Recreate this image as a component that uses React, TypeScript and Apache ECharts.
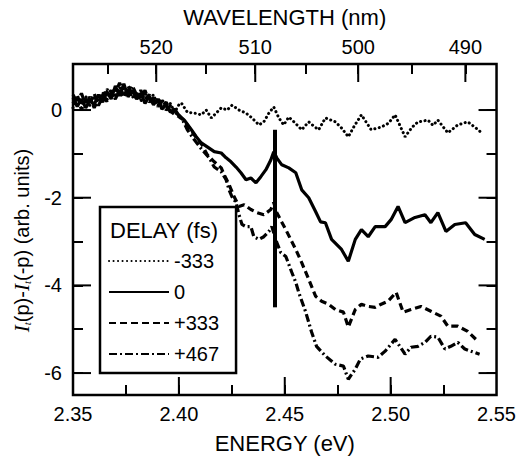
import React, { useEffect, useRef } from "react";
import * as echarts from "echarts";

// Energy axis (eV) and signal axis limits
const E_MIN = 2.35;
const E_MAX = 2.55;
const E_STEP = 0.05;
const Y_MIN = -6.5;
const Y_MAX = 1.05;
const Y_MAJOR = [-6, -4, -2, 0];
const Y_MINOR = [-5, -3, -1];

// Wavelength scale on the top axis (nm), with the spectrometer calibration offset (eV)
const WAVE_MAJOR = [520, 510, 500, 490];
const WAVE_MINOR = [525, 515, 505, 495];
const HC = 1239.84;
const CAL_OFFSET = 0.005;
const nmToEv = (nm: number) => HC / nm + CAL_OFFSET;
const evToNm = (ev: number) => HC / (ev - CAL_OFFSET);

const DELAYS = ["-333", "0", "+333", "+467"];

// Differential signal I_t(p) - I_t(-p) vs photon energy, one trace per pump delay
const TRACE_M333: [number, number][] = [
  [2.35, 0.05], [2.352, 0.3], [2.354, 0.12], [2.356, 0.32], [2.358, 0.1], [2.36, 0.28],
  [2.362, 0.18], [2.364, 0.4], [2.366, 0.22], [2.368, 0.48], [2.37, 0.3], [2.372, 0.52],
  [2.374, 0.35], [2.376, 0.5], [2.378, 0.28], [2.38, 0.42], [2.382, 0.2], [2.384, 0.38],
  [2.386, 0.22], [2.388, 0.35], [2.39, 0.1], [2.392, 0.25], [2.394, 0.05], [2.396, 0.15],
  [2.398, -0.05], [2.4, 0.12], [2.4012, 0.16], [2.404, -0.05], [2.4073, -0.07], [2.4106, -0.11],
  [2.4129, 0.0], [2.4153, -0.18], [2.4176, -0.07], [2.42, 0.05], [2.4228, 0.0],
  [2.4251, 0.11], [2.4284, 0.0], [2.4317, -0.07], [2.4345, -0.18], [2.4378, -0.34],
  [2.4401, -0.27], [2.4425, -0.07], [2.4448, 0.07], [2.4472, -0.18], [2.4495, -0.34],
  [2.4519, -0.16], [2.455, -0.3], [2.458, -0.45], [2.4613, -0.27], [2.464, -0.38],
  [2.466, -0.45], [2.4692, -0.18], [2.4739, -0.27], [2.4768, -0.41], [2.48, -0.61],
  [2.483, -0.35], [2.4862, -0.11], [2.4908, -0.45], [2.4955, -0.39], [2.499, -0.3],
  [2.5021, -0.11], [2.5068, -0.61], [2.51, -0.4], [2.5129, -0.27], [2.5176, -0.23],
  [2.52, -0.35], [2.5223, -0.23], [2.527, -0.52], [2.5317, -0.34], [2.5364, -0.27],
  [2.54, -0.4], [2.5425, -0.5],
];

const TRACE_0: [number, number][] = [
  [2.35, 0.28], [2.352, 0.08], [2.354, 0.25], [2.356, 0.05], [2.358, 0.22], [2.36, 0.12],
  [2.362, 0.35], [2.364, 0.18], [2.366, 0.42], [2.368, 0.25], [2.37, 0.55], [2.372, 0.32],
  [2.374, 0.6], [2.376, 0.3], [2.378, 0.45], [2.38, 0.25], [2.382, 0.38], [2.384, 0.15],
  [2.386, 0.32], [2.388, 0.12], [2.39, 0.25], [2.392, 0.02], [2.394, 0.12], [2.396, -0.05],
  [2.398, 0.02], [2.4, -0.12], [2.4026, -0.23], [2.4059, -0.45], [2.4082, -0.61], [2.4106, -0.75],
  [2.4134, -0.84], [2.4167, -0.95], [2.42, -0.98], [2.4223, -1.09], [2.4246, -1.18],
  [2.427, -1.3], [2.4293, -1.43], [2.4317, -1.59], [2.434, -1.55], [2.4364, -1.66],
  [2.4387, -1.52], [2.4411, -1.36], [2.4434, -1.14], [2.4448, -0.95], [2.4462, -1.09],
  [2.4486, -1.25], [2.4519, -1.32], [2.4552, -1.43], [2.458, -1.82], [2.4613, -2.0],
  [2.4646, -2.32], [2.4669, -2.55], [2.4692, -2.57], [2.4721, -2.95], [2.4768, -3.18],
  [2.48, -3.45], [2.4833, -2.95], [2.4862, -2.73], [2.4894, -2.89], [2.4927, -2.66],
  [2.4974, -2.66], [2.5002, -2.5], [2.5035, -2.2], [2.5068, -2.57], [2.5115, -2.45],
  [2.5162, -2.39], [2.519, -2.57], [2.5223, -2.34], [2.5261, -2.77], [2.5303, -2.61],
  [2.5354, -2.57], [2.5397, -2.84], [2.5444, -2.95],
];

const TRACE_P333: [number, number][] = [
  [2.35, 0.15], [2.352, 0.35], [2.354, 0.0], [2.356, 0.25], [2.358, 0.15], [2.36, 0.38],
  [2.362, 0.1], [2.364, 0.3], [2.366, 0.2], [2.368, 0.4], [2.37, 0.25], [2.372, 0.45],
  [2.374, 0.28], [2.376, 0.55], [2.378, 0.35], [2.38, 0.28], [2.382, 0.45], [2.384, 0.25],
  [2.386, 0.35], [2.388, 0.18], [2.39, 0.28], [2.392, 0.08], [2.394, 0.18], [2.396, -0.02],
  [2.398, -0.1], [2.4, -0.15], [2.402, -0.22], [2.404, -0.34], [2.4073, -0.57], [2.411, -0.8],
  [2.4134, -1.02], [2.4167, -1.18], [2.42, -1.32], [2.4214, -1.48], [2.4237, -1.7],
  [2.4261, -1.98], [2.4284, -2.2], [2.4308, -2.16], [2.434, -2.27], [2.4369, -2.34],
  [2.4401, -2.39], [2.4434, -2.27], [2.4448, -2.11], [2.4462, -2.34], [2.4505, -2.73],
  [2.4552, -3.18], [2.458, -3.48], [2.4613, -3.86], [2.4646, -4.25], [2.4674, -4.36],
  [2.4707, -4.43], [2.4739, -4.55], [2.4777, -4.61], [2.48, -4.95], [2.4833, -4.55],
  [2.4862, -4.43], [2.4894, -4.48], [2.4927, -4.5], [2.4955, -4.43], [2.4988, -4.36],
  [2.5026, -4.16], [2.5059, -4.61], [2.5096, -4.55], [2.5143, -4.48], [2.519, -4.59],
  [2.5237, -4.7], [2.527, -4.93], [2.5317, -4.93], [2.5364, -5.05], [2.5411, -5.27],
];

const TRACE_P467: [number, number][] = [
  [2.35, 0.35], [2.352, 0.18], [2.354, 0.38], [2.356, 0.12], [2.358, 0.3], [2.36, 0.05],
  [2.362, 0.25], [2.364, 0.28], [2.366, 0.48], [2.368, 0.3], [2.37, 0.38], [2.372, 0.62],
  [2.374, 0.4], [2.376, 0.35], [2.378, 0.55], [2.38, 0.35], [2.382, 0.3], [2.384, 0.45],
  [2.386, 0.18], [2.388, 0.28], [2.39, 0.08], [2.392, 0.2], [2.394, 0.0], [2.396, 0.1],
  [2.398, -0.05], [2.4, -0.12], [2.402, -0.25], [2.404, -0.45], [2.4073, -0.68], [2.411, -0.91],
  [2.4143, -1.09], [2.4167, -1.3], [2.42, -1.41], [2.4223, -1.59], [2.4237, -1.82],
  [2.4251, -1.98], [2.427, -2.11], [2.4284, -2.39], [2.4298, -2.61], [2.4317, -2.66],
  [2.434, -2.66], [2.4354, -2.89], [2.4378, -2.95], [2.4401, -2.89], [2.4425, -2.77],
  [2.4439, -2.66], [2.4462, -3.02], [2.4481, -3.25], [2.4505, -3.34], [2.4533, -3.7],
  [2.4552, -3.93], [2.4566, -4.16], [2.4599, -4.61], [2.4627, -5.07], [2.465, -5.39],
  [2.4692, -5.61], [2.4739, -5.8], [2.4777, -5.84], [2.48, -6.14], [2.4833, -5.91],
  [2.4857, -5.68], [2.4894, -5.61], [2.4941, -5.64], [2.4974, -5.5], [2.5021, -5.23],
  [2.5068, -5.57], [2.5096, -5.41], [2.5129, -5.39], [2.5162, -5.3], [2.519, -5.16],
  [2.5223, -5.18], [2.5256, -5.45], [2.5284, -5.39], [2.5317, -5.3], [2.535, -5.45],
  [2.5378, -5.5], [2.542, -5.57],
];

// Vertical marker bar: energy and signal extent
const MARKER_E = 2.4455;
const MARKER_TOP = -0.45;
const MARKER_BOTTOM = -4.5;

const SANS = "Liberation Sans";
const BLACK = "#000";
const MAJOR_LEN = 18;
const MINOR_LEN = 10;

// Plot area
const GRID = { left: 73, right: 20, top: 64, bottom: 63 };
const WIDTH = 519;
const HEIGHT = 459;

export default function App() {
  const ref = useRef<HTMLDivElement>(null);

  useEffect(() => {
    if (!ref.current) return;
    const chart = echarts.init(ref.current, undefined, { renderer: "svg" });

    const label = { color: BLACK, fontSize: 20, fontFamily: SANS };
    const tickStyle = { color: BLACK, width: 2 };
    const hidden = { show: false, onZero: false };

    // Tick-only axis (the plot frame itself is the grid border)
    const xTicks = (position: string, values: number[], length: number) => ({
      type: "value",
      min: E_MIN,
      max: E_MAX,
      position,
      splitLine: { show: false },
      axisLine: hidden,
      axisLabel: { show: false },
      axisTick: { show: true, inside: true, length, customValues: values, lineStyle: tickStyle },
    });
    const yTicks = (position: string, values: number[], length: number) => ({
      type: "value",
      min: Y_MIN,
      max: Y_MAX,
      position,
      splitLine: { show: false },
      axisLine: hidden,
      axisLabel: { show: false },
      axisTick: { show: true, inside: true, length, customValues: values, lineStyle: tickStyle },
    });

    const eMajor: number[] = [];
    const eMinor: number[] = [];
    for (let k = 1; E_MIN + k * E_STEP < E_MAX - 1e-9; k++) {
      eMajor.push(+(E_MIN + k * E_STEP).toFixed(3));
    }
    for (let k = 0; E_MIN + (k + 0.5) * E_STEP < E_MAX; k++) {
      eMinor.push(+(E_MIN + (k + 0.5) * E_STEP).toFixed(4));
    }
    const waveMajorEv = WAVE_MAJOR.map(nmToEv);

    const lineSeries = (name: string, data: [number, number][], type: any, width: number, cap = "butt") => ({
      name,
      type: "line",
      data,
      symbol: "none",
      showSymbol: false,
      xAxisIndex: 0,
      yAxisIndex: 0,
      lineStyle: { color: BLACK, width, type, cap },
      itemStyle: { color: BLACK },
      z: 3,
    });

    const legendTitle = {
      type: "text",
      left: 110,
      top: 219,
      z: 10,
      style: { text: "DELAY (fs)", fill: BLACK, font: `22px ${SANS}` },
    };

    const option: any = {
      animation: false,
      textStyle: { fontFamily: SANS, color: BLACK },
      grid: {
        ...GRID,
        containLabel: false,
        show: true,
        borderColor: BLACK,
        borderWidth: 2.5,
        backgroundColor: "transparent",
      },
      xAxis: [
        // bottom: energy labels and title
        {
          type: "value",
          min: E_MIN,
          max: E_MAX,
          interval: E_STEP,
          position: "bottom",
          splitLine: { show: false },
          axisLine: hidden,
          axisTick: { show: false },
          axisLabel: { ...label, margin: 9, formatter: (v: number) => v.toFixed(2) },
          name: "ENERGY (eV)",
          nameLocation: "middle",
          nameGap: 37,
          nameTextStyle: { color: BLACK, fontSize: 22, fontFamily: SANS },
        },
        // top: wavelength labels and title
        {
          type: "value",
          min: E_MIN,
          max: E_MAX,
          position: "top",
          splitLine: { show: false },
          axisLine: hidden,
          axisTick: { show: false },
          axisLabel: {
            ...label,
            margin: 7,
            customValues: waveMajorEv,
            formatter: (v: number) => String(Math.round(evToNm(v))),
          },
          name: "WAVELENGTH (nm)",
          nameLocation: "middle",
          nameGap: 36,
          nameTextStyle: { color: BLACK, fontSize: 22, fontFamily: SANS },
        },
        xTicks("bottom", eMinor, MINOR_LEN),
        xTicks("top", WAVE_MINOR.map(nmToEv), MINOR_LEN),
        xTicks("bottom", eMajor, MINOR_LEN),
        xTicks("top", waveMajorEv, MINOR_LEN),
      ],
      yAxis: [
        {
          type: "value",
          min: Y_MIN,
          max: Y_MAX,
          position: "left",
          splitLine: { show: false },
          axisLine: hidden,
          axisTick: { show: false },
          axisLabel: { ...label, margin: 11, customValues: Y_MAJOR },
          name: "{i|I}{s|t}(p)-{i|I}{s|t}(-p) (arb. units)",
          nameLocation: "middle",
          nameGap: 41,
          nameTextStyle: {
            color: BLACK,
            fontSize: 20,
            fontFamily: SANS,
            padding: [0, 22, 0, 0],
            rich: {
              i: { fontFamily: "Liberation Serif", fontStyle: "italic", fontSize: 21, color: BLACK },
              s: { fontFamily: "Liberation Serif", fontStyle: "italic", fontSize: 11, verticalAlign: "bottom", color: BLACK },
            },
          },
        },
        yTicks("left", Y_MINOR, MINOR_LEN),
        yTicks("right", Y_MINOR, MINOR_LEN),
        yTicks("left", Y_MAJOR, MINOR_LEN),
        yTicks("right", Y_MAJOR, MINOR_LEN),
      ],
      legend: {
        data: DELAYS,
        orient: "vertical",
        left: 100,
        top: 207,
        itemWidth: 60,
        itemHeight: 20,
        itemGap: 11,
        padding: [44, 17, 9, 8],
        borderColor: BLACK,
        borderWidth: 2.5,
        backgroundColor: "#fff",
        selectedMode: false,
        itemStyle: { opacity: 0, color: "rgba(0,0,0,0)", borderWidth: 0 },
        textStyle: { color: BLACK, fontSize: 20, fontFamily: SANS },
      },
      graphic: [legendTitle],
      series: [
        lineSeries(DELAYS[0], TRACE_M333, [0.1, 4.4], 3, "round"),
        {
          ...lineSeries(DELAYS[1], TRACE_0, "solid", 3.2),
          markLine: {
            silent: true,
            symbol: ["none", "none"],
            label: { show: false },
            lineStyle: { color: BLACK, width: 4, type: "solid" },
            data: [[{ coord: [MARKER_E, MARKER_TOP] }, { coord: [MARKER_E, MARKER_BOTTOM] }]],
          },
        },
        lineSeries(DELAYS[2], TRACE_P333, [7, 4], 3.2),
        lineSeries(DELAYS[3], TRACE_P467, [8, 3, 2, 3], 3.2),
      ],
    };

    chart.setOption(option);

    // Full-length major ticks on all four sides, positioned through the axis scales
    const plotW = WIDTH - GRID.left - GRID.right;
    const plotH = HEIGHT - GRID.top - GRID.bottom;
    const xPx = (e: number) => {
      const r = chart.convertToPixel({ xAxisIndex: 0 }, e) as any;
      return Number.isFinite(r) ? r : GRID.left + ((e - E_MIN) / (E_MAX - E_MIN)) * plotW;
    };
    const yPx = (v: number) => {
      const r = chart.convertToPixel({ yAxisIndex: 0 }, v) as any;
      return Number.isFinite(r) ? r : GRID.top + ((Y_MAX - v) / (Y_MAX - Y_MIN)) * plotH;
    };
    const tick = (x1: number, y1: number, x2: number, y2: number) => ({
      type: "line",
      silent: true,
      z: 20,
      shape: { x1, y1, x2, y2 },
      style: { stroke: BLACK, lineWidth: 2 },
    });
    const ticks: any[] = [];
    const bottomY = yPx(Y_MIN);
    const topY = yPx(Y_MAX);
    const leftX = xPx(E_MIN);
    const rightX = xPx(E_MAX);
    eMajor.forEach((e) => {
      const x = xPx(e);
      ticks.push(tick(x, bottomY, x, bottomY - MAJOR_LEN));
    });
    waveMajorEv.forEach((e) => {
      const x = xPx(e);
      ticks.push(tick(x, topY, x, topY + MAJOR_LEN));
    });
    Y_MAJOR.forEach((v) => {
      const y = yPx(v);
      ticks.push(tick(leftX, y, leftX + MAJOR_LEN, y));
      ticks.push(tick(rightX, y, rightX - MAJOR_LEN, y));
    });
    chart.setOption({ graphic: [legendTitle, ...ticks] });

    return () => chart.dispose();
  }, []);

  return <div ref={ref} style={{ width: WIDTH, height: HEIGHT, position: "absolute", left: 0, top: 0 }} />;
}
